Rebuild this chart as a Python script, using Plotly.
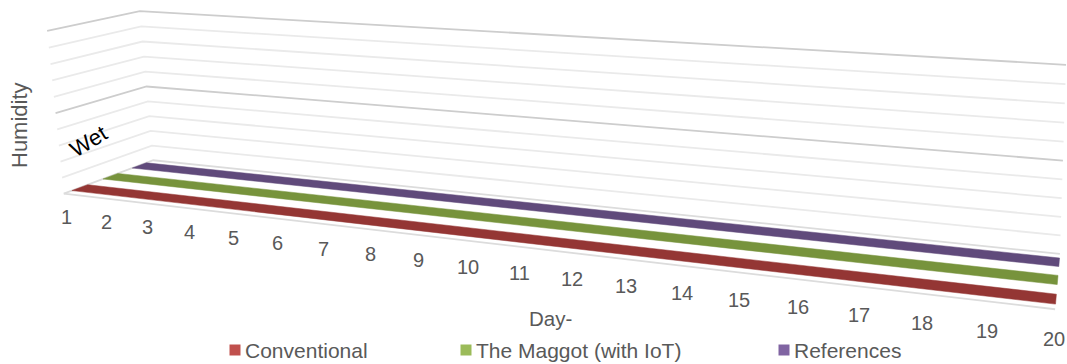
import numpy as np
import plotly.graph_objects as go

W, H = 1067, 364
FONT = "Liberation Sans, Arial, sans-serif"
TEXT_GREY = "#595959"

# ---- data -----------------------------------------------------------------
days = ["1", "2", "3", "4", "5", "6", "7", "8", "9", "10",
        "11", "12", "13", "14", "15", "16", "17", "18", "19", "20"]

conventional = [0, 0, 0, 0, 0, 0, 0, 0, 0, 0, 0, 0, 0, 0, 0, 0, 0, 0, 0, 0]
maggot_iot = [0, 0, 0, 0, 0, 0, 0, 0, 0, 0, 0, 0, 0, 0, 0, 0, 0, 0, 0, 0]
references = [0, 0, 0, 0, 0, 0, 0, 0, 0, 0, 0, 0, 0, 0, 0, 0, 0, 0, 0, 0]

series_names = ["Conventional", "The Maggot (with IoT)", "References"]
series_values = [conventional, maggot_iot, references]

# humidity (value) axis: 0..10, minor step 1, major step 5
value_min, value_max = 0, 10
minor_step, major_step = 1, 5

# ---- styles ---------------------------------------------------------------
ribbon_colors = ["#943634", "#77933C", "#604A7B"]
legend_colors = ["#C0504D", "#9BBB59", "#8064A2"]
major_grid = "#CDCDCD"
minor_grid = "#EAEAEA"
floor_edge = "#DCDCDC"
grid_width = 1.8

# ---- 3-D frame and perspective camera ---------------------------------------
# Box coordinates: u = category axis (0..1), w = series depth (0 front .. 1 back),
# v = value axis (0..1).  The camera is solved from where the box corners sit
# on the canvas (in pixels).
frame_world = [(0, 0, 0), (1, 0, 0), (0, 1, 0), (1, 1, 0),
               (0, 0, 1), (0, 1, 1), (1, 1, 1)]
frame_screen = [(64, 193), (1055, 310), (153, 161), (1060, 253),
                (47, 31), (140, 11), (1066, 65)]


def solve_camera(world, screen):
    world = np.asarray(world, float)
    screen = np.asarray(screen, float)

    c2 = screen.mean(0)
    s2 = np.sqrt(2) / np.sqrt(((screen - c2) ** 2).sum(1)).mean()
    T = np.array([[s2, 0, -s2 * c2[0]], [0, s2, -s2 * c2[1]], [0, 0, 1]])

    c3 = world.mean(0)
    s3 = np.sqrt(3) / np.sqrt(((world - c3) ** 2).sum(1)).mean()
    U = np.diag([s3, s3, s3, 1.0])
    U[:3, 3] = -s3 * c3

    wh = (U @ np.c_[world, np.ones(len(world))].T).T
    sh = (T @ np.c_[screen, np.ones(len(screen))].T).T
    rows = []
    for Xw, xs in zip(wh, sh):
        x, y = xs[0] / xs[2], xs[1] / xs[2]
        rows.append(np.r_[Xw, np.zeros(4), -x * Xw])
        rows.append(np.r_[np.zeros(4), Xw, -y * Xw])
    _, _, vt = np.linalg.svd(np.array(rows))
    Pn = vt[-1].reshape(3, 4)
    return np.linalg.inv(T) @ Pn @ U


P = solve_camera(frame_world, frame_screen)


def project(u, w, v):
    p = P @ np.array([u, w, v, 1.0])
    return p[0] / p[2], p[1] / p[2]


def path(points):
    xy = [project(*pt) for pt in points]
    return [p[0] for p in xy], [p[1] for p in xy]


def vnorm(val):
    return (val - value_min) / (value_max - value_min)


fig = go.Figure()


def add_line(xs, ys, color, width):
    fig.add_trace(go.Scatter(x=xs, y=ys, mode="lines",
                             line=dict(color=color, width=width),
                             hoverinfo="skip", showlegend=False))


# ---- walls: horizontal gridlines on side wall and back wall ------------------
levels = np.arange(value_min, value_max + minor_step / 2, minor_step)
for lv in levels:
    v = vnorm(lv)
    xs, ys = path([(0, 0, v), (0, 1, v), (1, 1, v)])
    if lv == value_min:
        color = floor_edge
    elif abs((lv - value_min) % major_step) < 1e-9:
        color = major_grid
    else:
        color = minor_grid
    add_line(xs, ys, color, grid_width)

# floor front edge
xs, ys = path([(0, 0, 0), (1, 0, 0)])
add_line(xs, ys, floor_edge, grid_width)

# ---- series ribbons ---------------------------------------------------------
n_days = len(days)
n_series = len(series_values)
slot = 1.0 / n_series
half_depth = slot * 0.5 / 2
u_pos = [i / (n_days - 1) for i in range(n_days)]

for s in reversed(range(n_series)):
    c = (s + 0.5) * slot
    vals = [vnorm(x) for x in series_values[s]]
    front = [(u, c - half_depth, v) for u, v in zip(u_pos, vals)]
    back = [(u, c + half_depth, v) for u, v in zip(u_pos, vals)][::-1]
    xs, ys = path(front + back + front[:1])
    fig.add_trace(go.Scatter(x=xs, y=ys, mode="lines", fill="toself",
                             fillcolor=ribbon_colors[s],
                             line=dict(color=ribbon_colors[s], width=0.5),
                             name=series_names[s], hoverinfo="skip",
                             showlegend=False))

# ---- category tick labels ---------------------------------------------------
annotations = []
for u, lab in zip(u_pos, days):
    x, y = project(u, 0, -0.14)
    annotations.append(dict(x=x, y=y + 1, text=lab, showarrow=False,
                            xanchor="center", yanchor="middle",
                            font=dict(family=FONT, size=20, color=TEXT_GREY)))

# value-axis label and axis titles
annotations.append(dict(x=88, y=141, text="Wet", showarrow=False, textangle=-31,
                        xanchor="center", yanchor="middle",
                        font=dict(family=FONT, size=22, color="#000000")))
annotations.append(dict(x=19, y=125, text="Humidity", showarrow=False,
                        textangle=-90, xanchor="center", yanchor="middle",
                        font=dict(family=FONT, size=22, color=TEXT_GREY)))
annotations.append(dict(x=550, y=318, text="Day-", showarrow=False,
                        xanchor="center", yanchor="middle",
                        font=dict(family=FONT, size=20.5, color=TEXT_GREY)))

# ---- legend -----------------------------------------------------------------
legend_x = [235, 466, 784]
legend_y = 350
fig.add_trace(go.Scatter(x=legend_x, y=[legend_y] * 3, mode="markers",
                         marker=dict(symbol="square", size=11,
                                     color=legend_colors, line=dict(width=0)),
                         hoverinfo="skip", showlegend=False))
for lx, name in zip(legend_x, series_names):
    annotations.append(dict(x=lx + 8, y=legend_y, text=name, showarrow=False,
                            xanchor="left", yanchor="middle",
                            font=dict(family=FONT, size=21, color=TEXT_GREY)))

fig.update_layout(
    width=W, height=H,
    margin=dict(l=0, r=0, t=0, b=0),
    paper_bgcolor="white", plot_bgcolor="white",
    xaxis=dict(range=[0, W], visible=False, fixedrange=True),
    yaxis=dict(range=[H, 0], visible=False, fixedrange=True),
    annotations=annotations,
    showlegend=False,
)

fig.write_html("out.html")
